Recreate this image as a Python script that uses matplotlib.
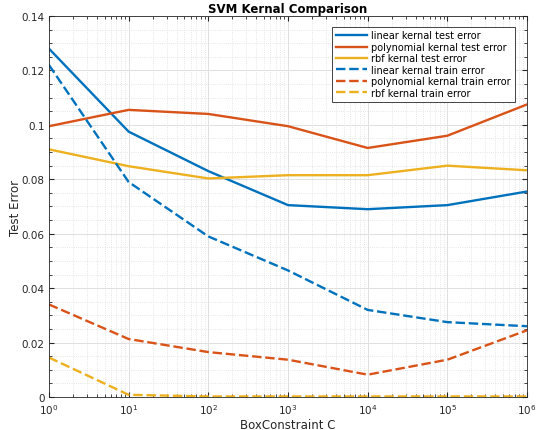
import numpy as np
import matplotlib
matplotlib.use("Agg")
import matplotlib.pyplot as plt
from matplotlib.ticker import MultipleLocator, LogLocator, NullFormatter

C = [1e0, 1e1, 1e2, 1e3, 1e4, 1e5, 1e6]
linear_test = [0.128, 0.0975, 0.083, 0.0705, 0.069, 0.0705, 0.0755]
poly_test = [0.0995, 0.1055, 0.104, 0.0995, 0.0915, 0.096, 0.1075]
rbf_test = [0.091, 0.0848, 0.0803, 0.0815, 0.0815, 0.085, 0.0833]
linear_train = [0.122, 0.079, 0.059, 0.0465, 0.032, 0.0275, 0.026]
poly_train = [0.034, 0.0213, 0.0165, 0.0137, 0.0082, 0.0137, 0.0245]
rbf_train = [0.0145, 0.0008, 0.0002, 0.0002, 0.0002, 0.0002, 0.0002]
yticks = [0, 0.02, 0.04, 0.06, 0.08, 0.1, 0.12, 0.14]
ytick_labels = ["0", "0.02", "0.04", "0.06", "0.08", "0.1", "0.12", "0.14"]

blue, red, yellow = "#0072BD", "#D95319", "#EDB120"

fig = plt.figure(figsize=(5.38, 4.31), dpi=100)
ax = fig.add_axes([0.091, 0.0766, 0.8886, 0.884])

lw = 1.7
dash = (0, (4, 1.6))
ax.plot(C, linear_test, color=blue, lw=lw, label="linear kernal test error")
ax.plot(C, poly_test, color=red, lw=lw, label="polynomial kernal test error")
ax.plot(C, rbf_test, color=yellow, lw=lw, label="rbf kernal test error")
ax.plot(C, linear_train, color=blue, lw=lw, ls=dash, label="linear kernal train error")
ax.plot(C, poly_train, color=red, lw=lw, ls=dash, label="polynomial kernal train error")
ax.plot(C, rbf_train, color=yellow, lw=lw, ls=dash, label="rbf kernal train error")

ax.set_xscale("log")
ax.set_xlim(1, 1e6)
ax.set_ylim(0, 0.14)
ax.set_yticks(yticks)
ax.set_yticklabels(ytick_labels)
ax.yaxis.set_minor_locator(MultipleLocator(0.005))
ax.xaxis.set_minor_locator(LogLocator(base=10, subs=np.arange(2, 10)))
ax.xaxis.set_minor_formatter(NullFormatter())

ax.set_axisbelow(True)
ax.grid(which="major", color="#e0e0e0", ls="-", lw=0.7)
ax.grid(which="minor", color="#dedede", ls=":", lw=0.6)
ax.tick_params(which="both", direction="in", top=True, right=True, labelsize=7.5,
               colors="#262626")
ax.tick_params(axis="x", pad=4)
ax.tick_params(axis="y", pad=3)
ax.tick_params(which="minor", length=2)
ax.tick_params(which="major", length=3.5)
for s in ax.spines.values():
    s.set_color("#262626")
    s.set_linewidth(0.6)

ax.set_xlabel("BoxConstraint C", fontsize=8.5, color="#262626", labelpad=1)
ax.set_ylabel("Test Error", fontsize=8.5, color="#262626", labelpad=0)
ax.set_title("SVM Kernal Comparison", fontsize=8.5, fontweight="bold", pad=3)

leg = ax.legend(loc="upper right", bbox_to_anchor=(0.985, 0.985), fontsize=7,
                fancybox=False, framealpha=1, edgecolor="#262626",
                handlelength=3.2, labelspacing=0.15, borderpad=0.4, handletextpad=0.5)
leg.get_frame().set_linewidth(0.6)

fig.savefig("out.png", dpi=100)
